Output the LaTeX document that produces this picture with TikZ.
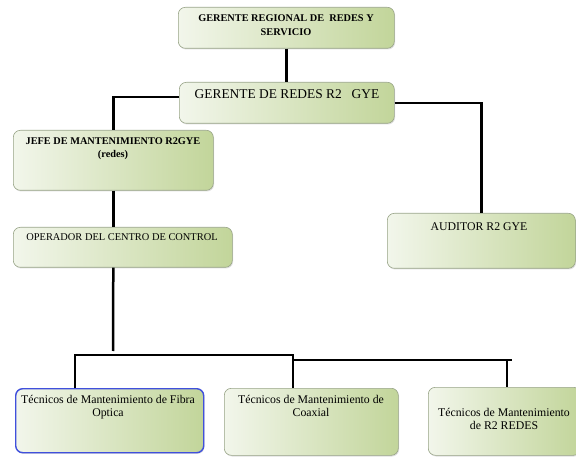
\documentclass[tikz,border=0pt]{standalone}
\usepackage{fontspec}
\setmainfont{Liberation Serif}
\usetikzlibrary{shadows}
\definecolor{gleft}{HTML}{F2F6EB}
\definecolor{gright}{HTML}{C2D59A}
\definecolor{bord}{HTML}{98A488}
\definecolor{bluebord}{HTML}{4050DC}
\tikzset{
  orgbox/.style={rectangle, rounded corners=7pt, draw=bord, line width=0.6pt,
    left color=gleft, right color=gright, inner sep=0pt, anchor=north west,
    drop shadow={shadow xshift=0.8pt, shadow yshift=-1.2pt, opacity=0.25}},
  bluebox/.style={orgbox, draw=bluebord, line width=1.4pt},
  conn/.style={line width=2.5pt, black},
  lbl/.style={inner sep=0pt, align=center, anchor=north, text=black},
}
\newcommand{\fsz}[2]{\fontsize{#1}{#2}\selectfont}
\begin{document}
\begin{tikzpicture}[x=1pt,y=-1pt]
\useasboundingbox (0,0) rectangle (576,457);
% boxes
\node[orgbox, minimum width=216pt, minimum height=41pt] (n1) at (178,7) {};
\node[orgbox, minimum width=215pt, minimum height=41pt] (n2) at (179,82) {};
\node[orgbox, minimum width=200pt, minimum height=60pt] (n3) at (13,130) {};
\node[orgbox, minimum width=219pt, minimum height=40pt] (n4) at (13,227) {};
\node[orgbox, minimum width=188pt, minimum height=55pt] (n5) at (387,213) {};
\node[bluebox, minimum width=188pt, minimum height=64pt] (n6) at (15,388) {};
\node[orgbox, minimum width=174pt, minimum height=67pt] (n7) at (224,388) {};
\node[orgbox, minimum width=152pt, minimum height=68pt] (n8) at (428,387) {};
% texts
\node[lbl, font=\fsz{10.3}{14}\bfseries] (t1) at (286,14) {GERENTE REGIONAL DE\ \ REDES Y\\SERVICIO};
\node[lbl, font=\fsz{13.4}{15}] (t2) at (287,89) {GERENTE DE REDES R2\hspace{10pt}GYE};
\node[lbl, font=\fsz{10.3}{13}\bfseries] (t3) at (113,137) {JEFE DE MANTENIMIENTO R2GYE\\(redes)};
\node[lbl, font=\fsz{10.4}{13}] (t4) at (122,233) {OPERADOR DEL CENTRO DE CONTROL};
\node[lbl, font=\fsz{11.8}{13}] (t5) at (479,222) {AUDITOR R2 GYE};
\node[lbl, font=\fsz{11.8}{13}] (t6) at (108,395) {Técnicos de Mantenimiento de Fibra\\Optica};
\node[lbl, font=\fsz{11.8}{13}] (t7) at (311,395) {Técnicos de Mantenimiento de\\Coaxial};
\node[lbl, font=\fsz{11.8}{13}] (t8) at (504,408) {Técnicos de Mantenimiento\\de R2 REDES};
% connector helpers
\coordinate (j1) at (113,97);
\coordinate (gapend) at (113,351);
\coordinate (busL) at (75,355);
\coordinate (busM) at (293,355);
\coordinate (busM2) at (293,360);
\coordinate (busR) at (512,360);
\coordinate (dropR) at (507,360);
% connectors
\draw[conn] (n1.south) -- (n1.south |- n2.north);
\draw[conn] (n2.west |- j1) -| (n3.north);
\draw[conn] (n2.east) -| (n5.north);
\draw[conn] (n3.south) -- (n3.south |- n4.north);
\draw[conn] (n3.south |- n4.south) -- (gapend);
\draw[conn] (n6.north -| busL) |- (busM) -- (n7.north -| busM);
\draw[conn] (busM2) -- (busR);
\draw[conn] (dropR) -- (n8.north -| dropR);
\end{tikzpicture}
\end{document}
